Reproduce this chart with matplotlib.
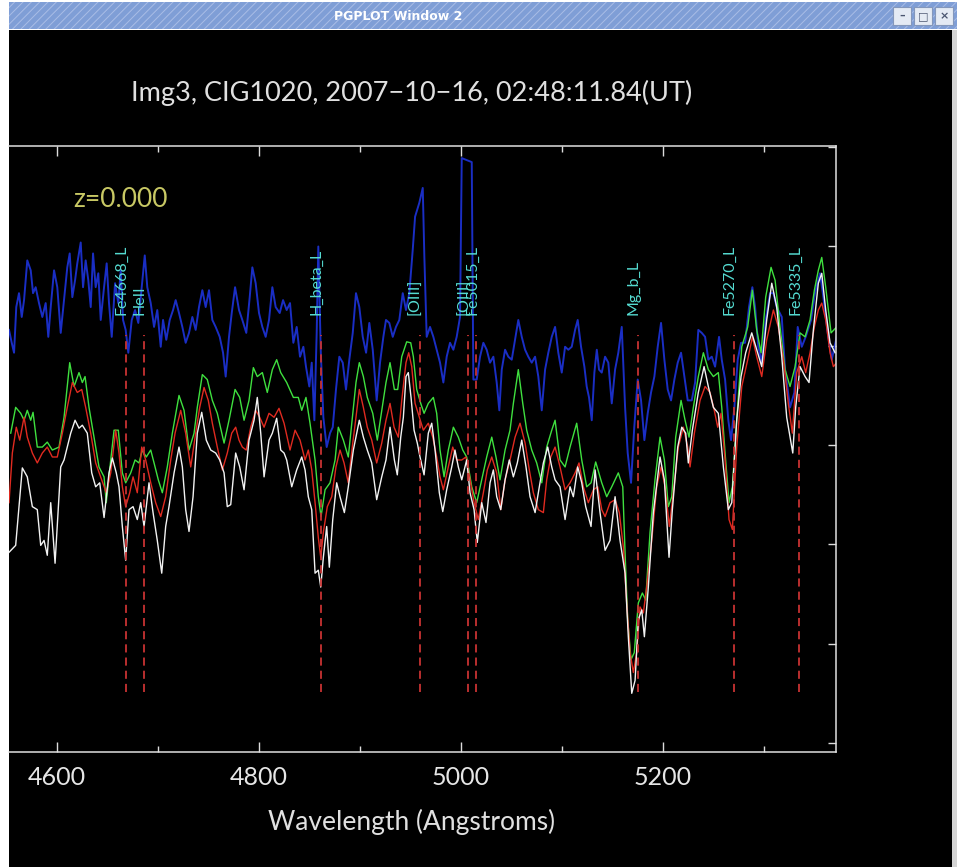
import matplotlib
matplotlib.use('Agg')
import matplotlib.pyplot as plt
import numpy as np
from matplotlib.patches import Rectangle
from matplotlib.ticker import MultipleLocator

# spectra (wavelength in Angstrom, flux in arbitrary units)
white_wl = [4552.5, 4559.1, 4565.7, 4570.6, 4575.6, 4580.5, 4583.9, 4587.2, 4590.4, 4593.8,
            4598.1, 4603.7, 4607.0, 4610.2, 4613.6, 4617.9, 4621.8, 4625.1, 4630.0, 4634.4,
            4638.3, 4642.3, 4646.6, 4651.5, 4654.8, 4658.7, 4661.4, 4664.7, 4668.0, 4671.3,
            4675.3, 4679.5, 4682.9, 4686.2, 4691.1, 4695.1, 4699.3, 4703.7, 4707.6, 4710.9,
            4715.9, 4720.8, 4724.1, 4727.4, 4730.7, 4734.7, 4738.9, 4743.3, 4747.8, 4752.2,
            4757.1, 4761.1, 4765.4, 4768.6, 4772.0, 4776.9, 4780.9, 4785.2, 4790.1, 4795.1,
            4798.3, 4801.7, 4805.0, 4809.9, 4813.2, 4817.5, 4821.5, 4824.8, 4827.4, 4832.4,
            4837.3, 4842.3, 4845.6, 4848.8, 4852.2, 4855.5, 4858.7, 4861.1, 4863.7, 4867.0,
            4869.6, 4873.0, 4876.9, 4880.2, 4884.5, 4888.4, 4893.4, 4899.3, 4903.3, 4907.2,
            4911.6, 4916.5, 4921.5, 4925.7, 4929.7, 4934.0, 4936.9, 4940.3, 4942.9, 4945.5,
            4947.8, 4950.5, 4953.5, 4956.7, 4959.4, 4963.4, 4967.6, 4971.0, 4974.3, 4978.5,
            4981.9, 4985.8, 4990.8, 4994.0, 4997.3, 5000.7, 5005.6, 5008.9, 5012.9, 5016.1,
            5020.5, 5024.7, 5028.7, 5032.0, 5035.3, 5039.3, 5043.6, 5047.8, 5051.8, 5055.7,
            5060.1, 5064.3, 5068.3, 5073.3, 5077.5, 5081.5, 5085.8, 5089.8, 5093.1, 5098.0,
            5103.0, 5107.9, 5111.2, 5115.5, 5119.5, 5123.4, 5128.7, 5132.7, 5137.6, 5142.6,
            5147.5, 5152.5, 5157.4, 5162.4, 5165.6, 5169.0, 5172.3, 5175.5, 5178.9, 5181.5,
            5185.4, 5190.4, 5197.0, 5201.3, 5205.9, 5209.2, 5214.5, 5218.5, 5222.4, 5225.0,
            5229.0, 5234.9, 5240.6, 5244.8, 5249.8, 5254.7, 5259.7, 5264.6, 5268.0, 5272.9,
            5277.2, 5281.8, 5287.8, 5292.7, 5297.7, 5302.6, 5307.6, 5312.5, 5317.5, 5322.4,
            5328.4, 5331.3, 5335.6, 5340.6, 5344.5, 5348.8, 5353.7, 5357.1, 5361.0, 5365.3,
            5370.3]
white_fx = [192, 199, 277, 268, 238, 235, 199, 204, 189, 242,
            181, 278, 285, 298, 312, 325, 317, 320, 312, 272,
            258, 262, 227, 272, 287, 272, 258, 218, 184, 235,
            238, 225, 242, 218, 262, 232, 204, 171, 218, 238,
            272, 298, 278, 235, 213, 248, 312, 333, 305, 295,
            292, 285, 272, 238, 240, 292, 278, 255, 305, 325,
            348, 312, 268, 305, 312, 327, 295, 292, 285, 258,
            275, 288, 275, 248, 235, 171, 174, 157, 187, 218,
            177, 225, 262, 248, 232, 258, 295, 325, 308, 295,
            282, 245, 268, 285, 318, 285, 270, 308, 328, 369,
            373, 348, 315, 302, 288, 270, 312, 322, 295, 252,
            233, 255, 278, 295, 278, 265, 285, 252, 235, 202,
            242, 222, 262, 275, 248, 235, 265, 285, 268, 282,
            305, 278, 248, 232, 258, 282, 298, 278, 265, 258,
            225, 258, 248, 278, 262, 238, 218, 275, 232, 194,
            204, 248, 204, 171, 107, 50, 63, 124, 134, 107,
            157, 232, 288, 265, 187, 235, 298, 318, 312, 282,
            315, 353, 379, 359, 338, 332, 278, 235, 242, 325,
            369, 393, 413, 396, 379, 426, 463, 439, 389, 328,
            292, 338, 379, 369, 363, 416, 463, 473, 436, 403,
            393]

green_wl = [4554.2, 4559.1, 4564.1, 4567.4, 4570.6, 4574.0, 4576.3, 4580.5, 4585.5, 4590.4,
            4595.4, 4602.0, 4607.0, 4612.6, 4616.9, 4621.8, 4625.1, 4627.8, 4631.7, 4636.7,
            4641.6, 4646.6, 4648.8, 4653.2, 4656.5, 4660.7, 4664.7, 4668.0, 4673.0, 4677.3,
            4681.2, 4684.5, 4688.4, 4692.8, 4696.1, 4700.3, 4704.3, 4709.2, 4714.2, 4720.8,
            4725.8, 4730.7, 4735.7, 4738.9, 4743.9, 4748.8, 4753.8, 4758.7, 4765.4, 4770.3,
            4776.3, 4780.9, 4785.2, 4790.1, 4794.4, 4798.3, 4803.3, 4808.2, 4813.2, 4817.5,
            4821.5, 4827.4, 4834.0, 4838.9, 4842.3, 4846.5, 4850.5, 4855.5, 4858.7, 4861.4,
            4865.4, 4870.3, 4875.3, 4878.5, 4883.5, 4888.4, 4892.8, 4896.0, 4899.3, 4903.3,
            4907.2, 4912.6, 4917.1, 4921.5, 4925.7, 4929.7, 4934.0, 4937.3, 4941.3, 4946.2,
            4950.2, 4952.8, 4956.1, 4960.1, 4963.4, 4967.6, 4972.6, 4975.9, 4979.2, 4983.2,
            4987.4, 4992.4, 4997.3, 5001.7, 5005.6, 5010.6, 5015.5, 5020.5, 5025.4, 5030.4,
            5034.6, 5038.6, 5043.6, 5048.5, 5051.8, 5056.7, 5061.1, 5065.0, 5070.0, 5074.9,
            5079.9, 5084.8, 5089.8, 5093.1, 5098.0, 5103.0, 5107.9, 5114.5, 5119.5, 5124.4,
            5128.7, 5133.3, 5139.3, 5144.2, 5149.2, 5155.7, 5160.1, 5162.4, 5165.0, 5168.3,
            5171.5, 5175.5, 5179.5, 5182.8, 5187.1, 5192.0, 5197.0, 5201.3, 5205.2, 5208.6,
            5212.5, 5217.8, 5221.8, 5225.7, 5230.0, 5234.9, 5239.9, 5244.8, 5249.8, 5254.7,
            5258.1, 5261.4, 5265.3, 5268.6, 5272.9, 5277.9, 5283.8, 5288.4, 5292.7, 5297.0,
            5301.6, 5306.9, 5310.9, 5315.8, 5320.8, 5325.7, 5330.7, 5335.6, 5340.6, 5345.5,
            5349.8, 5353.7, 5357.1, 5361.0, 5366.3, 5371.9]
green_fx = [312, 338, 332, 325, 335, 325, 333, 298, 298, 303,
            295, 298, 328, 383, 359, 373, 363, 369, 338, 308,
            278, 268, 242, 285, 315, 315, 272, 262, 272, 285,
            282, 295, 288, 295, 282, 265, 252, 278, 312, 350,
            335, 295, 312, 338, 371, 366, 345, 332, 302, 325,
            356, 348, 325, 345, 378, 369, 373, 353, 376, 386,
            373, 363, 348, 348, 335, 348, 322, 285, 248, 228,
            255, 262, 285, 318, 305, 288, 332, 363, 383, 369,
            348, 332, 305, 335, 363, 383, 356, 356, 389, 404,
            403, 389, 356, 342, 332, 342, 348, 332, 295, 268,
            295, 318, 308, 295, 288, 258, 242, 265, 288, 308,
            288, 265, 295, 315, 342, 376, 342, 315, 295, 282,
            262, 298, 315, 325, 285, 278, 298, 322, 285, 258,
            262, 283, 262, 248, 258, 272, 258, 191, 124, 84,
            91, 141, 151, 144, 212, 265, 308, 285, 238, 248,
            308, 345, 325, 308, 338, 369, 393, 376, 369, 373,
            338, 292, 242, 258, 325, 399, 419, 456, 416, 393,
            449, 479, 466, 419, 376, 359, 379, 413, 409, 426,
            456, 476, 489, 459, 413, 419]

red_wl = [4552.5, 4555.8, 4559.7, 4563.1, 4567.4, 4570.6, 4575.6, 4580.5, 4585.5, 4590.4,
          4595.4, 4600.3, 4605.3, 4610.2, 4615.2, 4620.1, 4624.5, 4628.4, 4633.4, 4638.3,
          4644.3, 4648.8, 4653.2, 4658.1, 4661.4, 4664.7, 4668.0, 4672.0, 4675.3, 4679.5,
          4683.9, 4687.8, 4692.8, 4697.7, 4702.7, 4707.6, 4712.6, 4716.9, 4722.5, 4727.4,
          4732.4, 4737.3, 4741.3, 4745.6, 4749.8, 4753.8, 4758.7, 4763.7, 4768.6, 4773.0,
          4776.9, 4780.2, 4783.5, 4787.4, 4791.8, 4796.7, 4800.7, 4805.0, 4809.9, 4814.9,
          4819.8, 4824.8, 4830.7, 4835.7, 4840.6, 4845.6, 4848.8, 4852.2, 4855.5, 4858.7,
          4861.1, 4863.7, 4867.6, 4872.0, 4876.2, 4880.2, 4884.2, 4888.4, 4892.8, 4896.0,
          4899.3, 4903.3, 4907.2, 4911.6, 4916.5, 4921.5, 4925.7, 4929.7, 4933.7, 4937.9,
          4941.3, 4945.5, 4948.2, 4951.2, 4954.5, 4958.7, 4962.7, 4967.6, 4972.0, 4975.9,
          4979.2, 4982.5, 4987.4, 4991.8, 4995.7, 5000.7, 5004.9, 5008.9, 5012.9, 5017.1,
          5022.1, 5026.0, 5030.4, 5035.3, 5039.3, 5043.6, 5048.5, 5053.5, 5058.4, 5063.4,
          5067.6, 5071.6, 5076.5, 5081.5, 5084.8, 5088.8, 5093.1, 5098.0, 5103.0, 5107.9,
          5112.9, 5116.8, 5121.1, 5126.0, 5131.0, 5135.3, 5139.3, 5142.6, 5147.5, 5152.5,
          5156.7, 5160.7, 5164.0, 5167.3, 5170.6, 5173.9, 5177.2, 5180.5, 5183.8, 5188.8,
          5193.7, 5198.0, 5202.0, 5206.2, 5210.2, 5215.1, 5220.1, 5224.4, 5226.7, 5231.0,
          5236.6, 5241.6, 5246.5, 5250.7, 5254.1, 5257.4, 5261.4, 5265.3, 5268.6, 5272.9,
          5277.9, 5283.8, 5288.4, 5292.7, 5297.7, 5302.6, 5309.2, 5314.1, 5319.1, 5324.0,
          5328.0, 5332.3, 5337.3, 5341.2, 5345.5, 5349.8, 5353.7, 5357.1, 5361.0, 5365.3,
          5368.6, 5371.9]
red_fx = [242, 292, 318, 305, 328, 308, 292, 282, 292, 298,
          288, 288, 312, 338, 363, 353, 356, 338, 312, 282,
          265, 252, 272, 315, 292, 258, 238, 252, 268, 252,
          298, 285, 262, 242, 228, 248, 285, 312, 335, 312,
          278, 312, 338, 358, 345, 322, 298, 275, 292, 312,
          318, 305, 298, 295, 318, 335, 328, 318, 332, 328,
          337, 322, 295, 315, 305, 285, 295, 275, 242, 207,
          187, 212, 238, 248, 278, 295, 282, 262, 302, 328,
          356, 338, 318, 305, 282, 302, 325, 342, 318, 308,
          345, 383, 393, 379, 342, 328, 315, 322, 308, 288,
          268, 255, 278, 298, 285, 285, 288, 265, 242, 225,
          252, 275, 288, 272, 235, 265, 285, 308, 322, 302,
          275, 252, 235, 232, 265, 288, 298, 278, 255, 262,
          272, 282, 258, 242, 255, 258, 235, 228, 242, 245,
          232, 197, 141, 91, 71, 91, 137, 131, 157, 204,
          258, 278, 258, 218, 252, 298, 318, 298, 278, 312,
          345, 359, 353, 335, 318, 332, 285, 225, 215, 298,
          359, 386, 409, 389, 369, 406, 436, 419, 386, 342,
          312, 373, 389, 373, 393, 419, 436, 443, 426, 393,
          379, 383]

blue_wl = [4552.5, 4555.2, 4557.5, 4559.7, 4562.4, 4565.1, 4567.4, 4570.6, 4574.0, 4576.3,
           4578.9, 4582.2, 4585.5, 4588.8, 4591.4, 4593.8, 4597.1, 4600.3, 4603.7, 4607.0,
           4610.2, 4612.6, 4615.2, 4617.9, 4620.1, 4623.5, 4625.8, 4628.4, 4631.0, 4633.4,
           4635.7, 4638.3, 4640.9, 4643.3, 4646.6, 4649.2, 4651.5, 4654.2, 4657.5, 4660.7,
           4663.1, 4665.4, 4668.0, 4670.6, 4674.0, 4677.3, 4680.5, 4683.9, 4686.9, 4689.4,
           4692.8, 4696.1, 4699.3, 4702.7, 4705.0, 4708.2, 4711.6, 4714.9, 4717.5, 4720.8,
           4724.1, 4727.4, 4730.7, 4734.0, 4737.3, 4740.6, 4743.9, 4747.2, 4750.5, 4753.8,
           4757.1, 4761.1, 4764.4, 4767.0, 4770.3, 4773.0, 4776.3, 4780.2, 4783.5, 4787.4,
           4790.8, 4793.4, 4796.7, 4800.0, 4803.3, 4806.6, 4809.9, 4813.2, 4816.5, 4820.5,
           4823.8, 4827.4, 4830.7, 4834.0, 4837.3, 4840.6, 4843.9, 4846.5, 4849.8, 4852.2,
           4854.8, 4857.1, 4858.7, 4861.1, 4863.7, 4867.0, 4870.3, 4873.0, 4876.2, 4879.5,
           4882.9, 4886.1, 4889.4, 4892.8, 4896.0, 4899.3, 4902.7, 4906.0, 4909.2, 4912.6,
           4916.5, 4919.8, 4923.1, 4925.7, 4929.0, 4932.4, 4935.6, 4938.9, 4942.3, 4945.5,
           4948.8, 4952.2, 4954.5, 4958.7, 4962.1, 4963.7, 4966.0, 4969.3, 4972.6, 4975.9,
           4979.2, 4982.5, 4985.8, 4989.1, 4992.4, 4995.7, 4999.0, 5000.7, 5010.6, 5012.2,
           5015.5, 5018.8, 5022.1, 5025.4, 5028.7, 5032.0, 5035.3, 5037.9, 5040.3, 5043.6,
           5046.8, 5050.2, 5053.5, 5056.7, 5060.1, 5063.4, 5066.6, 5070.0, 5073.3, 5076.5,
           5079.9, 5083.2, 5086.4, 5089.8, 5093.1, 5096.3, 5099.7, 5103.0, 5106.2, 5109.6,
           5112.9, 5115.5, 5118.8, 5122.1, 5124.4, 5126.7, 5129.4, 5132.0, 5134.4, 5136.6,
           5139.3, 5142.6, 5145.8, 5149.2, 5152.5, 5155.7, 5159.1, 5162.4, 5165.0, 5168.3,
           5171.5, 5174.9, 5178.2, 5181.5, 5184.8, 5188.1, 5191.4, 5194.7, 5198.0, 5201.3,
           5204.6, 5207.9, 5211.2, 5214.5, 5217.8, 5221.1, 5224.4, 5228.4, 5231.7, 5234.9,
           5238.3, 5241.6, 5244.8, 5248.2, 5251.5, 5255.4, 5258.1, 5261.4, 5264.6, 5267.3,
           5270.6, 5273.9, 5277.2, 5281.2, 5285.1, 5288.4, 5291.1, 5294.3, 5297.7, 5301.6,
           5305.9, 5309.2, 5312.5, 5317.5, 5320.8, 5325.7, 5330.0, 5333.3, 5337.3, 5341.2,
           5346.5, 5350.4, 5355.4, 5358.7, 5363.0, 5367.0, 5371.9]
blue_fx = [416, 403, 393, 439, 453, 429, 446, 486, 476, 453,
           459, 443, 429, 443, 409, 439, 476, 459, 413, 446,
           479, 493, 449, 466, 483, 504, 459, 486, 466, 439,
           493, 459, 473, 426, 459, 483, 443, 409, 463, 443,
           476, 426, 416, 393, 426, 436, 423, 459, 491, 459,
           443, 419, 436, 399, 426, 406, 426, 436, 446, 433,
           419, 403, 413, 429, 416, 439, 456, 439, 456, 426,
           419, 409, 393, 369, 409, 433, 459, 436, 426, 413,
           449, 479, 463, 433, 419, 409, 426, 459, 439, 433,
           446, 436, 443, 403, 419, 389, 399, 379, 359, 383,
           325, 413, 500, 396, 328, 298, 312, 318, 356, 389,
           383, 356, 386, 413, 453, 439, 409, 393, 423, 396,
           345, 383, 409, 426, 423, 409, 419, 426, 453, 436,
           453, 497, 530, 544, 559, 489, 409, 419, 409, 396,
           383, 363, 389, 403, 396, 409, 429, 589, 585, 366,
           366, 389, 403, 396, 383, 389, 363, 335, 376, 396,
           389, 386, 406, 426, 409, 396, 389, 383, 389, 369,
           335, 376, 393, 409, 419, 393, 373, 399, 396, 399,
           416, 426, 399, 379, 359, 348, 325, 373, 396, 376,
           373, 389, 383, 342, 376, 393, 419, 338, 292, 262,
           318, 366, 345, 305, 332, 353, 369, 399, 423, 386,
           356, 345, 366, 383, 393, 369, 345, 345, 363, 416,
           413, 409, 386, 389, 379, 409, 386, 366, 325, 305,
           338, 386, 403, 403, 439, 459, 439, 399, 383, 426,
           453, 453, 439, 429, 376, 338, 353, 419, 399, 409,
           426, 453, 473, 449, 413, 386, 409]

# index lines marked on the plot
line_wl = [4668, 4686, 4861, 4959, 5007, 5015, 5175, 5270, 5335]
line_names = ['Fe4668_L', 'HeII', 'H_beta_L', '[OIII]', '[OIII]', 'Fe5015_L',
              'Mg_b_L', 'Fe5270_L', 'Fe5335_L']
dash_lo, dash_hi = 51, 411
label_base = 431

title = 'Img3, CIG1020, 2007\u221210\u221216, 02:48:11.84(UT)'

plt.rcParams['font.family'] = ['Lato', 'DejaVu Sans']
plt.rcParams['hatch.linewidth'] = 0.7

W, H = 962, 867
fig = plt.figure(figsize=(W / 100, H / 100), dpi=100, facecolor='white')


def box(x0, y0, x1, y1, z=-1, **kw):
    fig.add_artist(Rectangle((x0 / W, 1 - y1 / H), (x1 - x0) / W, (y1 - y0) / H,
                             transform=fig.transFigure, zorder=z, **kw))


# window frame
box(9, 30, 952, 867, fc='black', ec='none')
box(952, 30, 957, 867, fc='#d4d4d4', ec='none')
box(9, 2, 957, 29, fc='#7f9ed6', ec='#a9bde6', hatch='////', lw=0)
fig.text(398 / W, 1 - 16 / H, 'PGPLOT Window 2', color='white', fontsize=9,
         fontweight='bold', family='DejaVu Sans', ha='center', va='center')
for bx, icon in zip([893, 914, 935], ['\u2013', '\u25a1', '\u00d7']):
    box(bx, 7, bx + 18, 25, z=1, fc='#e4eaf4', ec='#8497bb', lw=0.8)
    fig.text((bx + 9) / W, 1 - 16 / H, icon, color='#4a5570', fontsize=8,
             fontweight='bold', family='DejaVu Sans', ha='center', va='center')

ax = fig.add_axes([9 / W, 1 - 752 / H, 827 / W, 606 / H])
ax.set_facecolor('black')

ax.plot(blue_wl, blue_fx, color='#1a2ec4', lw=1.4)
ax.plot(green_wl, green_fx, color='#3fe03f', lw=1.0)
ax.plot(red_wl, red_fx, color='#e02a20', lw=1.0)
ax.plot(white_wl, white_fx, color='#f2f2f2', lw=1.0)

for w, name in zip(line_wl, line_names):
    ax.plot([w, w], [dash_lo, dash_hi], color='#c83232', lw=1.3, ls=(0, (4.5, 2.8)))
    ax.text(w, label_base, name, rotation=90, rotation_mode='anchor', ha='left',
            va='baseline', color='#55dcd2', fontsize=11.5)

ax.text(4616, 547, 'z=0.000', color='#c8c864', fontsize=19, ha='left', va='center')

ax.set_xlim(4552.5, 5371.2)
ax.set_ylim(-9.1, 601.2)
ax.xaxis.set_major_locator(MultipleLocator(200))
ax.xaxis.set_minor_locator(MultipleLocator(100))
ax.yaxis.set_major_locator(MultipleLocator(100))
ax.tick_params(which='both', direction='in', colors='#dcdcdc', top=True, right=True,
               left=False, labelleft=False)
ax.tick_params(which='major', length=7.5, width=1)
ax.tick_params(which='minor', length=4, width=1)
ax.tick_params(axis='y', which='major', length=6)
ax.tick_params(axis='x', labelsize=18, labelcolor='#e6e6e6', pad=10)
ax.spines['left'].set_visible(False)
for s in ['top', 'right', 'bottom']:
    ax.spines[s].set_color('#e0e0e0')
    ax.spines[s].set_linewidth(1.1)

fig.text(412 / W, 1 - 93 / H, title, fontsize=19.5, color='#e0e0e0', ha='center', va='center')
fig.text(412 / W, 1 - 822 / H, 'Wavelength (Angstroms)', fontsize=19, color='#e0e0e0',
         ha='center', va='center')

fig.savefig('out.png', dpi=100, facecolor='white')
